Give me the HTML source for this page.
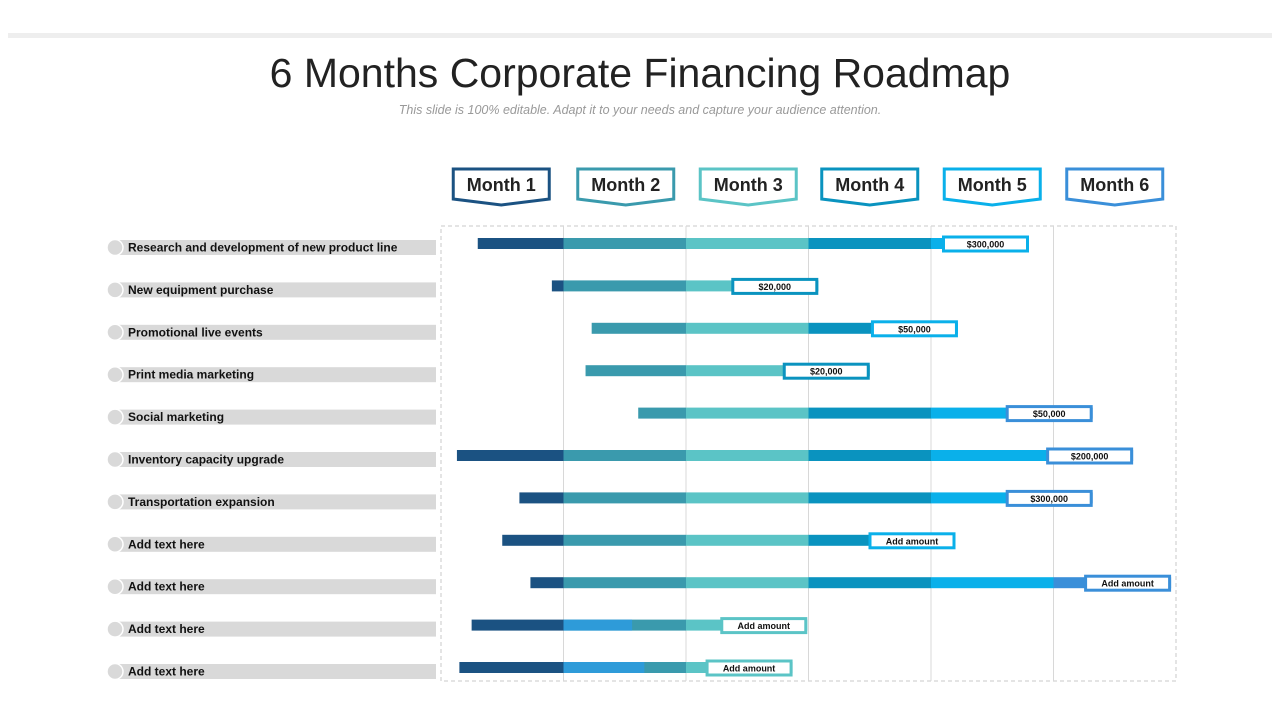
<!DOCTYPE html>
<html><head><meta charset="utf-8"><style>
body{margin:0;width:1280px;height:720px;background:#fff;font-family:"Liberation Sans",sans-serif;overflow:hidden;position:relative}
</style></head><body>
<div style="position:absolute;left:8px;top:33px;width:1264px;height:5px;background:#eeeeee"></div>
<div style="position:absolute;left:0;top:50px;width:1280px;text-align:center;font-size:41px;color:#222">6 Months Corporate Financing Roadmap</div>
<div style="position:absolute;left:0;top:103px;width:1280px;text-align:center;font-size:12.5px;font-style:italic;color:#999">This slide is 100% editable. Adapt it to your needs and capture your audience attention.</div>
<svg id="chart" width="1280" height="720" style="position:absolute;left:0;top:0" xmlns="http://www.w3.org/2000/svg"></svg>
<script>
const months=["Month 1","Month 2","Month 3","Month 4","Month 5","Month 6"];
const tasks=["Research and development of new product line","New equipment purchase","Promotional live events","Print media marketing","Social marketing","Inventory capacity upgrade","Transportation expansion","Add text here","Add text here","Add text here","Add text here"];
const startMonths=[0.30,0.905,1.23,1.18,1.61,0.13,0.64,0.50,0.73,0.25,0.15];
const endMonths=[4.80,3.08,4.22,3.50,5.32,5.65,5.32,4.20,5.96,2.99,2.87];
const amounts=["$300,000","$20,000","$50,000","$20,000","$50,000","$200,000","$300,000","Add amount","Add amount","Add amount","Add amount"];
const accentEnd=[0,0,0,0,0,0,0,0,0,1.56,1.66];
const monthColors=["#1b5282","#3a9aad","#5bc4c6","#0a93bf","#0ab0ea","#3a8fd9"];
const headerColors=["#1b5282","#3a9aad","#5bc4c6","#0a93bf","#0ab0ea","#3a8fd9"];
const svg=document.getElementById('chart');
const NS="http://www.w3.org/2000/svg";
const x0=441,mw=122.5,y0=244,rowH=42.4;
const X=m=>x0+m*mw, Y=i=>y0+i*rowH;
function el(t,a,p){const e=document.createElementNS(NS,t);for(const k in a)e.setAttribute(k,a[k]);(p||svg).appendChild(e);return e;}
// frame
const fr=el('rect',{x:441,y:226,width:735,height:455,fill:'none',stroke:'#c8c8c8','stroke-dasharray':'4,3'});


for(let m=1;m<6;m++){const g=el('line',{x1:X(m),x2:X(m),y1:226,y2:681,stroke:'#d8d8d8'});

}
// headers
months.forEach((mn,i)=>{const cx=X(i)+mw/2+(i<3?1:0)+ (i==0?-2:0);const g=el('g',{});


const l=cx-48,r=cx+48;
el('path',{d:`M${l},169 L${r},169 L${r},199 L${cx},205 L${l},199 Z`,fill:'#fff',stroke:headerColors[i],'stroke-width':3},g);
const t=el('text',{x:cx,y:191,'text-anchor':'middle','font-size':18,'font-weight':'bold',fill:'#222'},g);t.textContent=mn;});
// rows
tasks.forEach((tk,i)=>{const y=Y(i);
const lg=el('g',{});


el('rect',{x:114,y:y-4,width:322,height:15,fill:'#d9d9d9'},lg);
el('circle',{cx:115,cy:y+3.5,r:8,fill:'#d9d9d9',stroke:'#fff','stroke-width':1.5},lg);
const t=el('text',{x:128,y:y+7.5,'font-size':12,'font-weight':'bold',fill:'#111'},lg);t.textContent=tk;
const bg=el('g',{});


const s=startMonths[i],e=endMonths[i];
for(let m=0;m<6;m++){const a=Math.max(s,m),b=Math.min(e,m+1);if(b<=a)continue;
el('rect',{x:X(a),y:y-6,width:X(b)-X(a),height:11,fill:monthColors[m]},bg);}
if(accentEnd[i]>1){el('rect',{x:X(1),y:y-6,width:X(accentEnd[i])-X(1),height:11,fill:'#2e9bd9'},bg);}
const ec=monthColors[Math.min(5,Math.floor(e))];
const bw=84,bx=X(e)-bw-1.5;
const box=el('rect',{x:bx,y:y-7,width:bw,height:14,fill:'#fff',stroke:ec,'stroke-width':3});


const at=el('text',{x:bx+bw/2,y:y+3.5,'text-anchor':'middle','font-size':9,'font-weight':'bold',fill:'#111'});at.textContent=amounts[i];


});
</script>
</body></html>
